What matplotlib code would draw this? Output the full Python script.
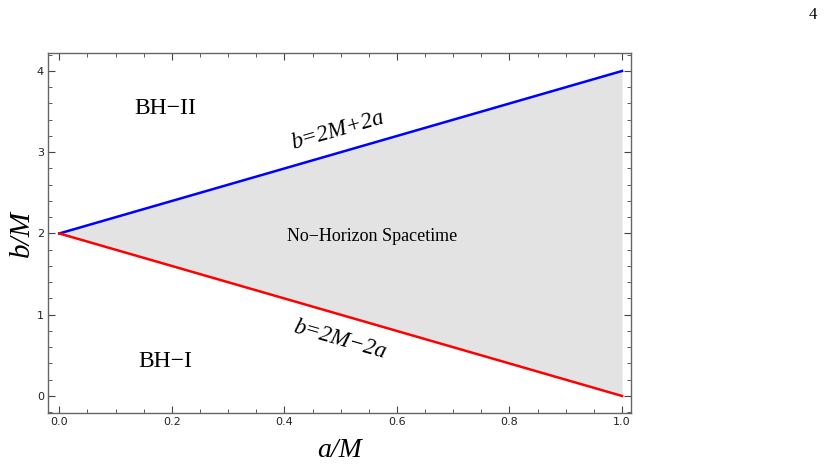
import matplotlib.pyplot as plt
from matplotlib.ticker import MultipleLocator

# boundary lines of the region
a_vals = [0.0, 1.0]
b_upper = [2.0, 4.0]
b_lower = [2.0, 0.0]

x_ticks = [0.0, 0.2, 0.4, 0.6, 0.8, 1.0]
y_ticks = [0, 1, 2, 3, 4]

serif = ["Liberation Serif", "DejaVu Serif"]

fig = plt.figure(figsize=(8.34, 4.68), dpi=100)
ax = fig.add_axes([0.0576, 0.1175, 0.699, 0.769])

# shaded no-horizon region between the two lines
ax.fill_between(a_vals, b_lower, b_upper, color="#e3e3e3", lw=0)
ax.plot(a_vals, b_upper, color="#0000ff", lw=1.8)
ax.plot(a_vals, b_lower, color="#ff0000", lw=1.8)

ax.set_xlim(-0.02, 1.016)
ax.set_ylim(-0.21, 4.22)
ax.set_xticks(x_ticks)
ax.set_xticklabels(["%.1f" % v for v in x_ticks])
ax.set_yticks(y_ticks)
ax.xaxis.set_minor_locator(MultipleLocator(0.05))
ax.yaxis.set_minor_locator(MultipleLocator(0.2))
ax.tick_params(which="both", direction="in", top=True, right=True,
               color="#444444", labelsize=8, labelcolor="#222222", pad=3)
ax.tick_params(which="major", length=5, width=0.8)
ax.tick_params(which="minor", length=3, width=0.6)
for sp in ax.spines.values():
    sp.set_color("#666666")
    sp.set_linewidth(1.0)

ax.set_xlabel("a/M", family=serif, style="italic", fontsize=20, labelpad=8)
ax.set_ylabel("b/M", family=serif, style="italic", fontsize=21, labelpad=1)

# region labels
ax.text(0.188, 3.54, "BH\u2212II", family=serif, fontsize=17,
        ha="center", va="center")
ax.text(0.188, 0.42, "BH\u2212I", family=serif, fontsize=17,
        ha="center", va="center")
ax.text(0.556, 1.96, "No\u2212Horizon Spacetime", family=serif, fontsize=13,
        ha="center", va="center")
ax.text(0.494, 3.27, "b=2M+2a", family=serif, style="italic", fontsize=16.5,
        ha="center", va="center", rotation=16)
ax.text(0.499, 0.69, "b=2M\u22122a", family=serif, style="italic", fontsize=16.5,
        ha="center", va="center", rotation=-16)

# page number
fig.text(0.974, 0.968, "4", family=serif, fontsize=12, ha="center", va="center")

fig.savefig("out.png", dpi=100)
